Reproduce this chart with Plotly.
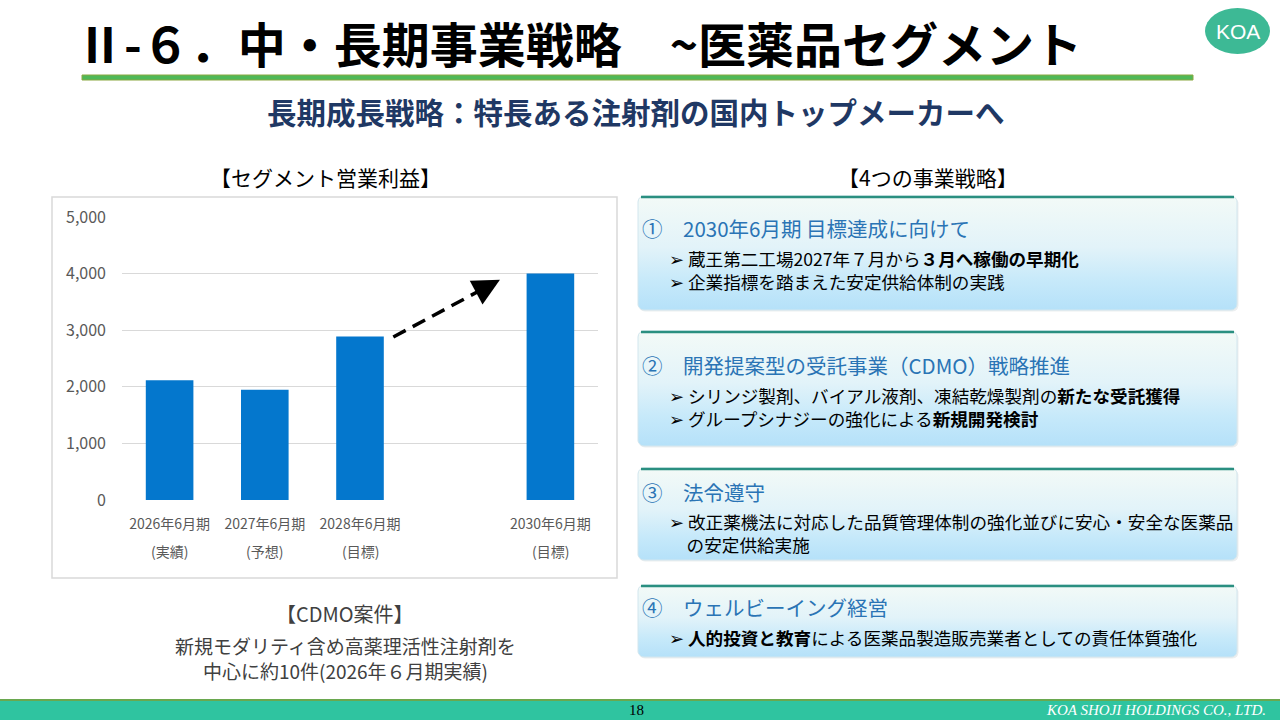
import plotly.graph_objects as go
import numpy as np

W, H = 1280, 720
JP = "Noto Sans CJK JP"

# chart data
periods = ["2026年6月期", "2027年6月期", "2028年6月期", " ", "2030年6月期"]
period_notes = ["(実績)", "(予想)", "(目標)", "", "(目標)"]
profit = [2115, 1950, 2890, None, 4000]
y_ticks = [0, 1000, 2000, 3000, 4000, 5000]

# right side strategy boxes
strategy_titles = [
    "①　2030年6月期 目標達成に向けて",
    "②　開発提案型の受託事業（CDMO）戦略推進",
    "③　法令遵守",
    "④　ウェルビーイング経営",
]
strategy_lines = [
    ["➢ 蔵王第二工場2027年７月から<b>３月へ稼働の早期化</b>",
     "➢ 企業指標を踏まえた安定供給体制の実践"],
    ["➢ シリンジ製剤、バイアル液剤、凍結乾燥製剤の<b>新たな受託獲得</b>",
     "➢ グループシナジーの強化による<b>新規開発検討</b>"],
    ["➢ 改正薬機法に対応した品質管理体制の強化並びに安心・安全な医薬品",
     "　の安定供給実施"],
    ["➢ <b>人的投資と教育</b>による医薬品製造販売業者としての責任体質強化"],
]
box_rows = [(196, 310), (331, 446), (468, 560), (585, 657)]
title_rows = [228, 365, 492, 607]
body_rows = [269.5, 406.5, 533, 637]

cdmo_lines = ["新規モダリティ含め高薬理活性注射剤を", "中心に約10件(2026年６月期実績)"]


def rounded_box(x0, y0, x1, y1, r=6):
    xs, ys = [], []
    for cx, cy, a0 in [(x1 - r, y0 + r, -90), (x1 - r, y1 - r, 0),
                       (x0 + r, y1 - r, 90), (x0 + r, y0 + r, 180)]:
        t = np.radians(np.linspace(a0, a0 + 90, 8))
        xs += list(cx + r * np.cos(t))
        ys += list(cy + r * np.sin(t))
    return xs + [xs[0]], ys + [ys[0]]


fig = go.Figure()

fig.add_trace(go.Bar(
    x=periods, y=profit,
    marker=dict(color="#0477CD", line=dict(width=0)),
    hoverinfo="skip",
))

# gradient boxes in pixel space
for (top, bottom) in box_rows:
    sx, sy = rounded_box(639, top + 1.5, 1238.5, bottom + 1.5)
    fig.add_trace(go.Scatter(
        x=sx, y=sy, xaxis="x2", yaxis="y2", mode="lines",
        fill="toself", fillcolor="#eceff0", line=dict(width=0),
        hoverinfo="skip",
    ))
    bx, by = rounded_box(638, top, 1237, bottom)
    fig.add_trace(go.Scatter(
        x=bx, y=by, xaxis="x2", yaxis="y2", mode="lines",
        fill="toself",
        fillgradient=dict(type="vertical", start=top, stop=bottom,
                          colorscale=[[0, "#f3faf7"], [0.45, "#e2f3f9"],
                                      [0.75, "#c6e9fa"], [1, "#b5e1f9"]]),
        line=dict(color="#d2e6ee", width=1),
        hoverinfo="skip",
    ))

shapes = []
annotations = []

# title block
annotations.append(dict(
    x=74, y=42, xref="x2", yref="y2", xanchor="left", yanchor="middle",
    text="<b>Ⅱ-６．中・長期事業戦略　~医薬品セグメント</b>",
    font=dict(family=JP, size=48, color="#000000"), showarrow=False,
))
shapes.append(dict(type="rect", xref="x2", yref="y2", x0=82, x1=1193, y0=75, y1=80,
                   fillcolor="#4fb857", line=dict(color="#8aa840", width=1), layer="above"))
shapes.append(dict(type="circle", xref="x2", yref="y2", x0=1205, x1=1270, y0=8, y1=54,
                   fillcolor="#3db995", line=dict(width=0)))
annotations.append(dict(
    x=1237.5, y=31, xref="x2", yref="y2", text="KOA", showarrow=False,
    font=dict(family="Liberation Sans", size=21, color="white"),
))
annotations.append(dict(
    x=636, y=111, xref="x2", yref="y2", showarrow=False,
    text="<b>長期成長戦略：特長ある注射剤の国内トップメーカーへ</b>",
    font=dict(family=JP, size=29.5, color="#1f3864"),
))

# section headers
annotations.append(dict(x=325, y=177, xref="x2", yref="y2", showarrow=False,
                        text="【セグメント営業利益】", font=dict(family=JP, size=21, color="#000000")))
annotations.append(dict(x=928, y=177, xref="x2", yref="y2", showarrow=False,
                        text="【4つの事業戦略】", font=dict(family=JP, size=21, color="#000000")))

# chart frame
shapes.append(dict(type="rect", xref="x2", yref="y2", x0=52, x1=617, y0=197, y1=578,
                   line=dict(color="#d9d9d9", width=1.5), fillcolor="rgba(0,0,0,0)"))

# category second line
for p, note in zip(periods, period_notes):
    if note:
        annotations.append(dict(x=p, y=551, xref="x", yref="y2", text=note, showarrow=False,
                                font=dict(family=JP, size=14, color="#595959")))

# dashed growth arrow from 2028 bar to 2030 bar
x_start, y_start = 2 + 0.35, profit[2] - 10
x_end, y_end = 4 - 0.53, profit[4] - 110
shapes.append(dict(type="line", xref="x", yref="y",
                   x0=x_start, y0=y_start,
                   x1=x_start + (x_end - x_start) * 0.86, y1=y_start + (y_end - y_start) * 0.86,
                   line=dict(color="black", width=3.5, dash="14px,8px")))
annotations.append(dict(
    x=x_end, y=y_end, ax=x_start + (x_end - x_start) * 0.8, ay=y_start + (y_end - y_start) * 0.8,
    xref="x", yref="y", axref="x", ayref="y", text="", showarrow=True,
    arrowhead=2, arrowsize=1.8, arrowwidth=3, arrowcolor="black", standoff=0,
))

# CDMO note
annotations.append(dict(x=345, y=613, xref="x2", yref="y2", showarrow=False,
                        text="【CDMO案件】", font=dict(family=JP, size=20, color="#404040")))
annotations.append(dict(x=345, y=657.5, xref="x2", yref="y2", showarrow=False,
                        text="<br>".join(cdmo_lines),
                        font=dict(family=JP, size=19, color="#404040")))

# strategy box texts
for (top, bottom), title, ty, lines, by in zip(box_rows, strategy_titles, title_rows,
                                                strategy_lines, body_rows):
    shapes.append(dict(type="line", xref="x2", yref="y2", x0=641, x1=1234, y0=top + 1, y1=top + 1,
                       line=dict(color="#2a8f80", width=2.5)))
    annotations.append(dict(x=640, y=ty, xref="x2", yref="y2", xanchor="left", showarrow=False,
                            text=title, font=dict(family=JP, size=20.5, color="#2a74b5")))
    annotations.append(dict(x=667, y=by, xref="x2", yref="y2", xanchor="left", align="left",
                            showarrow=False, text="<br>".join(lines),
                            font=dict(family=JP, size=17.6, color="#000000")))

# footer
shapes.append(dict(type="rect", xref="x2", yref="y2", x0=0, x1=W, y0=700, y1=720,
                   fillcolor="#2fc4a0", line=dict(width=0)))
shapes.append(dict(type="line", xref="x2", yref="y2", x0=0, x1=W, y0=700, y1=700,
                   line=dict(color="#6aa84f", width=2)))
annotations.append(dict(x=636, y=710, xref="x2", yref="y2", showarrow=False, text="18",
                        font=dict(family="Liberation Serif", size=15, color="#000000")))
annotations.append(dict(x=1268, y=710, xref="x2", yref="y2", xanchor="right", showarrow=False,
                        text="<i>KOA SHOJI HOLDINGS CO., LTD.</i>",
                        font=dict(family="Liberation Serif", size=15, color="white")))

fig.update_layout(
    width=W, height=H,
    margin=dict(l=0, r=0, t=0, b=0, autoexpand=False),
    paper_bgcolor="white",
    plot_bgcolor="rgba(0,0,0,0)",
    showlegend=False,
    bargap=0.5,
    font=dict(family=JP),
    xaxis=dict(
        domain=[122 / W, 598 / W], type="category",
        categoryorder="array", categoryarray=periods,
        showgrid=False, zeroline=False, ticks="", showline=False,
        tickfont=dict(family=JP, size=14, color="#595959"),
        ticklabelstandoff=14, fixedrange=True, automargin=False,
    ),
    yaxis=dict(
        domain=[(H - 500) / H, (H - 217) / H], range=[0, 5000],
        tickvals=y_ticks, tickformat=",d",
        gridcolor="#d9d9d9", gridwidth=1.3, zeroline=False, ticks="",
        tickfont=dict(family=JP, size=16, color="#595959"),
        ticklabelstandoff=15, fixedrange=True, automargin=False,
    ),
    xaxis2=dict(domain=[0, 1], range=[0, W], visible=False, anchor="y2", fixedrange=True),
    yaxis2=dict(domain=[0, 1], range=[H, 0], visible=False, anchor="x2", fixedrange=True),
    shapes=shapes,
    annotations=annotations,
)

fig.write_html("out.html", config={"displayModeBar": False},
               post_script="document.body.style.margin='0';")
